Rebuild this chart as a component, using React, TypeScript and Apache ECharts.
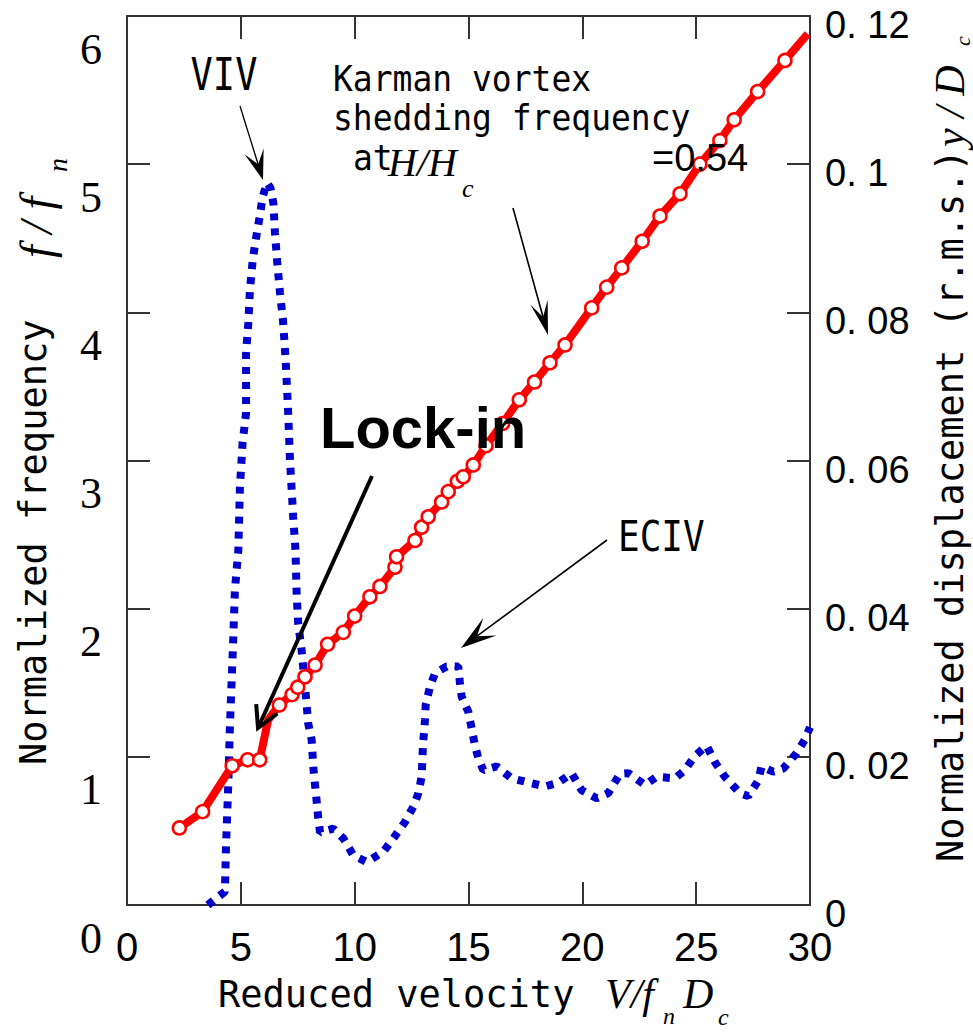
import React, { useEffect, useRef } from "react";
import * as echarts from "echarts";

// Karman vortex shedding frequency f/fn (left axis)
const redX = [2.3, 3.32, 4.62, 5.3, 5.83, 6.2, 6.69, 7.25, 7.5, 7.82, 8.26, 8.81, 9.5, 10.0, 10.67, 11.11, 11.77, 11.84, 12.65, 12.94, 13.23, 13.82, 14.11, 14.51, 14.77, 15.21, 15.77, 16.5, 17.23, 17.9, 18.58, 19.24, 20.41, 21.07, 21.73, 22.63, 23.41, 24.29, 25.16, 26.04, 26.67, 27.7, 28.9, 29.9];
const redY = [0.52, 0.63, 0.94, 0.98, 0.98, 1.25, 1.35, 1.42, 1.47, 1.54, 1.62, 1.76, 1.84, 1.95, 2.08, 2.15, 2.28, 2.35, 2.46, 2.55, 2.62, 2.72, 2.79, 2.86, 2.89, 2.97, 3.1, 3.25, 3.41, 3.53, 3.66, 3.78, 4.03, 4.17, 4.3, 4.48, 4.65, 4.8, 5.0, 5.16, 5.3, 5.49, 5.7, 5.88];
const redNoMarker = [5, 43];

// Normalized displacement (r.m.s.) y/Dc (right axis)
const blueX = [3.55, 4.3, 4.35, 4.45, 4.52, 4.67, 4.74, 4.89, 4.96, 5.08, 5.23, 5.23, 5.33, 5.4, 5.52, 5.62, 5.72, 5.84, 5.95, 6.15, 6.3, 6.43, 6.5, 6.6, 6.72, 6.85, 6.97, 7.08, 7.16, 7.3, 7.4, 7.45, 7.52, 7.67, 7.86, 7.96, 8.11, 8.2, 8.3, 8.4, 8.48, 9.06, 9.5, 9.94, 10.53, 11.26, 11.7, 12.21, 12.58, 12.8, 12.94, 13.0, 13.09, 13.12, 13.31, 13.53, 14.04, 14.55, 14.62, 14.7, 14.99, 15.14, 15.28, 15.43, 15.65, 16.24, 16.89, 17.55, 18.36, 18.94, 19.53, 19.97, 20.63, 21.14, 21.65, 22.02, 22.75, 23.26, 24.07, 24.5, 24.94, 25.46, 25.82, 26.26, 26.92, 27.29, 27.73, 27.87, 28.38, 28.82, 29.41, 29.77, 30];
const blueY = [0.0, 0.0018, 0.008, 0.0164, 0.0241, 0.0362, 0.0425, 0.0479, 0.0564, 0.0625, 0.0664, 0.0745, 0.0786, 0.083, 0.087, 0.0891, 0.091, 0.0931, 0.0955, 0.0975, 0.0968, 0.0947, 0.0907, 0.0867, 0.0826, 0.079, 0.0735, 0.0664, 0.06, 0.0524, 0.0479, 0.0421, 0.038, 0.0344, 0.0281, 0.0245, 0.0223, 0.018, 0.015, 0.0117, 0.0098, 0.0103, 0.009, 0.0067, 0.0058, 0.0072, 0.009, 0.0112, 0.0133, 0.0151, 0.0173, 0.0215, 0.025, 0.027, 0.0295, 0.0313, 0.0322, 0.0322, 0.0301, 0.0281, 0.0261, 0.0238, 0.0216, 0.0198, 0.0182, 0.0187, 0.0171, 0.0166, 0.016, 0.0165, 0.0178, 0.0155, 0.0144, 0.0151, 0.0177, 0.0178, 0.0162, 0.0173, 0.0171, 0.0182, 0.0201, 0.0215, 0.0193, 0.0173, 0.0151, 0.0147, 0.0168, 0.0187, 0.018, 0.0184, 0.0205, 0.0223, 0.024];

const MONO = "DejaVu Sans Mono";
const SERIF = "Liberation Serif";
const SANS = "Liberation Sans";

function arrowHead(x1: number, y1: number, x2: number, y2: number, len: number, half: number, notch: number) {
  const dx = x2 - x1, dy = y2 - y1;
  const d = Math.hypot(dx, dy);
  const ux = dx / d, uy = dy / d;
  const px = -uy, py = ux;
  const bx = x2 - ux * len, by = y2 - uy * len;
  const nx = x2 - ux * len * notch, ny = y2 - uy * len * notch;
  return [[x2, y2], [bx + px * half, by + py * half], [nx, ny], [bx - px * half, by - py * half]];
}

function arrow(x1: number, y1: number, x2: number, y2: number, w: number, len: number, half: number, notch: number) {
  const dx = x2 - x1, dy = y2 - y1;
  const d = Math.hypot(dx, dy);
  const ex = x2 - (dx / d) * len * notch, ey = y2 - (dy / d) * len * notch;
  return [
    { type: "line", shape: { x1, y1, x2: ex, y2: ey }, style: { stroke: "#000", lineWidth: w }, z: 10 },
    { type: "polygon", shape: { points: arrowHead(x1, y1, x2, y2, len, half, notch) }, style: { fill: "#000" }, z: 10 },
  ];
}

function openArrow(x1: number, y1: number, x2: number, y2: number, w: number, len: number, ang: number) {
  const a = Math.atan2(y1 - y2, x1 - x2);
  const p1 = [x2 + Math.cos(a + ang) * len, y2 + Math.sin(a + ang) * len];
  const p2 = [x2 + Math.cos(a - ang) * len, y2 + Math.sin(a - ang) * len];
  return [
    { type: "line", shape: { x1, y1, x2, y2 }, style: { stroke: "#000", lineWidth: w }, z: 10 },
    { type: "polyline", shape: { points: [p1, [x2, y2], p2] }, style: { stroke: "#000", lineWidth: w, fill: null, lineJoin: "miter" }, z: 10 },
  ];
}

function txt(text: string, x: number, y: number, font: string, size: number, opts: any = {}) {
  return {
    type: "text",
    x,
    y,
    rotation: opts.rotation || 0,
    scaleX: opts.scaleX || 1,
    scaleY: opts.scaleY || 1,
    z: 20,
    style: {
      text,
      fill: "#000",
      font: `${opts.style || ""} ${opts.weight || ""} ${size}px "${font}"`,
      textAlign: opts.align || "left",
      textVerticalAlign: "middle",
      align: opts.align || "left",
      verticalAlign: "middle",
    },
  };
}

export default function App() {
  const ref = useRef<HTMLDivElement>(null);
  useEffect(() => {
    document.body.style.margin = "0";
    if (!ref.current) return;
    const chart = echarts.init(ref.current, undefined, { renderer: "svg" });

    const redData = redX.map((x, i) =>
      redNoMarker.includes(i) ? { value: [x, redY[i]], symbol: "none" } : { value: [x, redY[i]] }
    );
    const blueData = blueX.map((x, i) => [x, blueY[i]]);

    const axisLine = { show: true, onZero: false, lineStyle: { color: "#333", width: 2 } };
    const axisTick = { show: true, inside: true, length: 23, lineStyle: { color: "#333", width: 2 } };

    const graphic: any[] = [
      txt("VIV", 224, 75, MONO, 37, { align: "center", scaleY: 1.2 }),
      txt("Karman vortex", 333, 78, MONO, 33, { scaleY: 1.1 }),
      txt("shedding frequency", 333, 117, MONO, 33, { scaleY: 1.1 }),
      txt("at", 353, 157, MONO, 33, { scaleY: 1.1 }),
      txt("H/H", 388, 162, SERIF, 40, { style: "italic" }),
      txt("c", 462, 188, SERIF, 26, { style: "italic" }),
      txt("=0.54", 652, 158, SANS, 38),
      txt("Lock-in", 320, 427, SANS, 58, { weight: "bold" }),
      txt("ECIV", 618, 536, MONO, 36, { scaleY: 1.2 }),
      // axis titles
      txt("Normalized frequency", 33, 765, MONO, 37, { rotation: Math.PI / 2 }),
      txt("f / f", 36, 258, SERIF, 46, { style: "italic", rotation: Math.PI / 2 }),
      txt("n", 57, 172, SERIF, 28, { style: "italic", rotation: Math.PI / 2 }),
      txt("Reduced velocity", 218, 994, MONO, 37),
      txt("V/f", 605, 994, SERIF, 42, { style: "italic" }),
      txt("n", 663, 1016, SERIF, 24, { style: "italic" }),
      txt("D", 683, 994, SERIF, 42, { style: "italic" }),
      txt("c", 718, 1017, SERIF, 24, { style: "italic" }),
      txt("Normalized displacement (r.m.s.)", 950, 862, MONO, 37, { rotation: Math.PI / 2 }),
      txt("y / D", 950, 147, SERIF, 42, { style: "italic", rotation: Math.PI / 2 }),
      txt("c", 962, 46, SERIF, 22, { style: "italic", rotation: Math.PI / 2 }),
      ...arrow(240, 106, 263, 180, 1.3, 30, 10, 0.55),
      ...arrow(513, 208, 548, 335, 1.6, 34, 9, 0.55),
      ...arrow(607, 540, 461, 648, 1.6, 36, 11, 0.55),
      ...openArrow(372, 476, 258, 728, 4, 24, 0.5),
    ];

    chart.setOption({
      animation: false,
      backgroundColor: "#fff",
      grid: { left: 127, top: 16, right: 163, bottom: 127, containLabel: false },
      xAxis: [
        {
          type: "value", min: 0, max: 30, interval: 5, position: "bottom",
          axisLine, axisTick, splitLine: { show: false },
          axisLabel: { fontFamily: SANS, fontSize: 40, color: "#000", margin: 22 },
        },
        {
          type: "value", min: 0, max: 30, interval: 5, position: "top",
          axisLine, axisTick, splitLine: { show: false }, axisLabel: { show: false },
        },
      ],
      yAxis: [
        {
          type: "value", min: 0, max: 6, interval: 1, position: "left",
          axisLine, axisTick, splitLine: { show: false },
          axisLabel: { fontFamily: SERIF, fontSize: 44, color: "#000", margin: 25, verticalAlign: "top", lineHeight: 66 },
        },
        {
          type: "value", min: 0, max: 0.12, interval: 0.02, position: "right",
          axisLine, axisTick, splitLine: { show: false },
          axisLabel: {
            fontFamily: SANS, fontSize: 38, color: "#000", margin: 15, verticalAlign: "top", lineHeight: 18,
            formatter: (v: number) => (v === 0 ? "0" : String(Math.round(v * 100) / 100).replace(".", ". ")),
          },
        },
      ],
      series: [
        {
          type: "line", xAxisIndex: 0, yAxisIndex: 1, data: blueData, symbol: "none",
          lineStyle: { color: "#0000cc", width: 8, type: [7, 8] }, z: 2,
        },
        {
          type: "line", xAxisIndex: 0, yAxisIndex: 0, data: redData, symbol: "circle", symbolSize: 13,
          itemStyle: { color: "#fff", borderColor: "#ff0000", borderWidth: 2.5 },
          lineStyle: { color: "#ff0000", width: 8 }, z: 3,
        },
      ],
      graphic,
    });
    return () => chart.dispose();
  }, []);
  return <div ref={ref} style={{ width: 973, height: 1032 }} />;
}
